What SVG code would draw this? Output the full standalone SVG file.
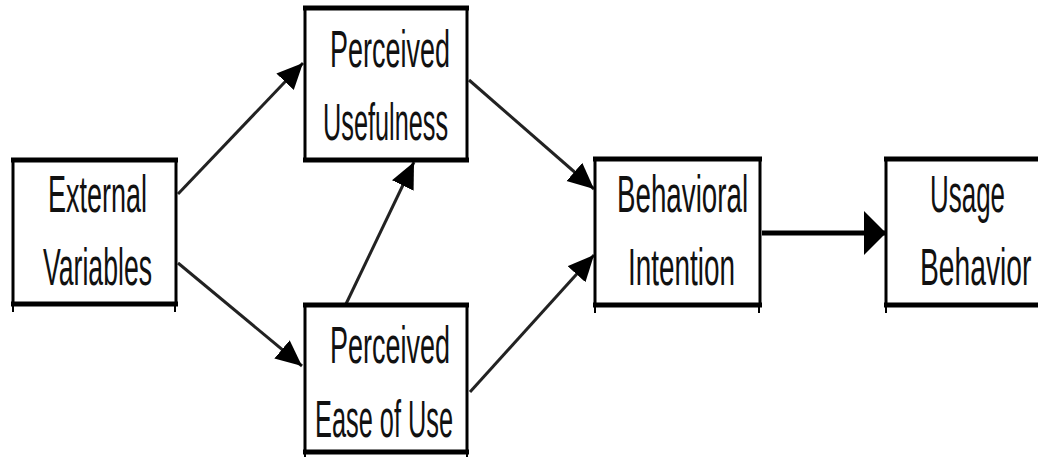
<svg xmlns="http://www.w3.org/2000/svg" width="1038" height="457" viewBox="0 0 1038 457">
<style>
.box{fill:#fff;stroke:#000;stroke-width:3}
.edge{stroke:#000;stroke-width:5}
.lbl{font-family:"Liberation Sans",Arial,sans-serif;font-size:51px;fill:#111}
.conn{stroke:#222;stroke-width:3;fill:none}
</style>
<defs>
<marker id="ah" markerUnits="userSpaceOnUse" markerWidth="30" markerHeight="26" refX="26" refY="12" orient="auto">
<path d="M0,0 L26,12 L0,24 z" fill="#000"/>
</marker>
<marker id="ahBig" markerUnits="userSpaceOnUse" markerWidth="26" markerHeight="46" refX="22" refY="22" orient="auto">
<path d="M0,0 L22,22 L0,44 z" fill="#000"/>
</marker>
</defs>
<rect width="1038" height="457" fill="#fff"/>
<g id="connectors">
<line class="conn" x1="178" y1="194" x2="303" y2="63" marker-end="url(#ah)"/>
<line class="conn" x1="178" y1="263" x2="302" y2="366" marker-end="url(#ah)"/>
<line class="conn" x1="346" y1="304" x2="414" y2="162" marker-end="url(#ah)"/>
<line class="conn" x1="469" y1="80" x2="594" y2="189" marker-end="url(#ah)"/>
<line class="conn" x1="470" y1="392" x2="594" y2="255" marker-end="url(#ah)"/>
<line x1="762" y1="233" x2="886" y2="233" stroke="#000" stroke-width="5" marker-end="url(#ahBig)"/>
</g>
<g id="node-external">
<rect class="box" x="13" y="160" width="163" height="144"/>
<line class="edge" x1="11" y1="160" x2="178" y2="160"/>
<line class="edge" x1="11" y1="304" x2="178" y2="304"/>
<line stroke="#000" stroke-width="2" x1="13" y1="304" x2="13" y2="312"/>
<line stroke="#000" stroke-width="2" x1="175" y1="304" x2="175" y2="312"/>
<text class="lbl" transform="translate(48,212) scale(0.529,1)">External</text>
<text class="lbl" transform="translate(43,285) scale(0.522,1)">Variables</text>
</g>
<g id="node-pu">
<rect class="box" x="305" y="8" width="162" height="152"/>
<line class="edge" x1="303" y1="8" x2="469" y2="8"/>
<line class="edge" x1="303" y1="160" x2="469" y2="160"/>
<text class="lbl" transform="translate(330,67) scale(0.529,1)">Perceived</text>
<text class="lbl" transform="translate(323,140) scale(0.496,1)">Usefulness</text>
</g>
<g id="node-peou">
<rect class="box" x="305" y="305" width="162" height="147"/>
<line class="edge" x1="303" y1="305" x2="469" y2="305"/>
<line class="edge" x1="303" y1="452" x2="469" y2="452"/>
<line stroke="#000" stroke-width="2" x1="305" y1="452" x2="305" y2="457"/>
<line stroke="#000" stroke-width="2" x1="467" y1="452" x2="467" y2="457"/>
<text class="lbl" transform="translate(330,363) scale(0.529,1)">Perceived</text>
<text class="lbl" transform="translate(315,437) scale(0.497,1)">Ease of Use</text>
</g>
<g id="node-bi">
<rect class="box" x="595" y="159" width="165" height="146"/>
<line class="edge" x1="593" y1="159" x2="762" y2="159"/>
<line class="edge" x1="593" y1="305" x2="762" y2="305"/>
<line stroke="#000" stroke-width="2" x1="595" y1="305" x2="595" y2="313"/>
<line stroke="#000" stroke-width="2" x1="759" y1="305" x2="759" y2="313"/>
<text class="lbl" transform="translate(617,212) scale(0.544,1)">Behavioral</text>
<text class="lbl" transform="translate(628,285) scale(0.547,1)">Intention</text>
</g>
<g id="node-ub">
<path d="M1038,159 H886 V305 H1038" fill="#fff" stroke="#000" stroke-width="3"/>
<line class="edge" x1="884" y1="159" x2="1038" y2="159"/>
<line class="edge" x1="884" y1="305" x2="1038" y2="305"/>
<line stroke="#000" stroke-width="2" x1="886" y1="305" x2="886" y2="313"/>
<text class="lbl" transform="translate(930,212) scale(0.509,1)">Usage</text>
<text class="lbl" transform="translate(920,285) scale(0.554,1)">Behavior</text>
</g>
</svg>
